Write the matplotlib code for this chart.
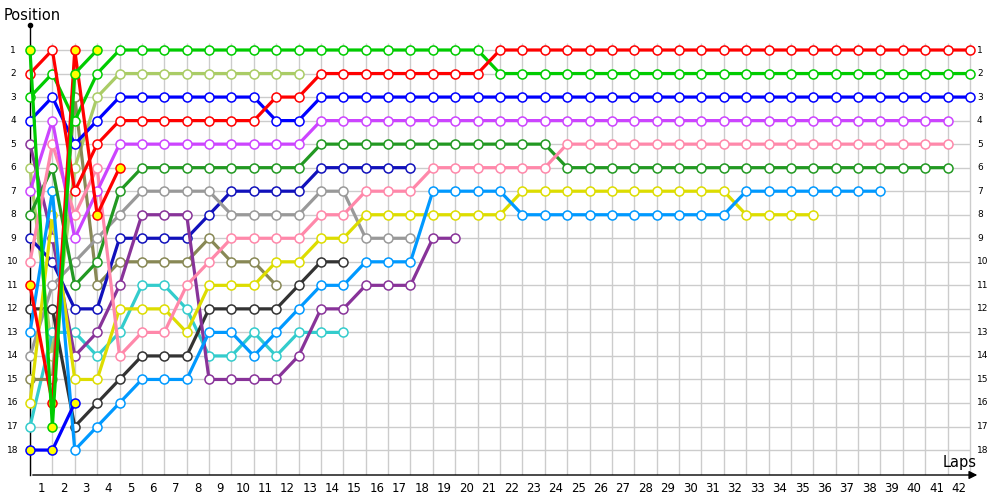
import matplotlib
matplotlib.use("Agg")
import matplotlib.pyplot as plt

# positions per lap, starting at lap 0 (grid)
red = [2, 1, 7, 5] + [4] * 7 + [3, 3] + [2] * 8 + [1] * 22
green = [3, 2, 4, 2] + [1] * 17 + [2] * 22
blue = [4, 3, 5, 4] + [3] * 7 + [4, 4] + [3] * 30
violet = [7, 4, 9, 7] + [5] * 9 + [4] * 29
pink = [10, 5, 8, 6, 14, 13, 13, 11, 10, 9, 9, 9, 9, 8, 8, 7, 7, 7] + [6] * 6 + [5] * 18
darkgreen = [8, 6, 11, 10, 7] + [6] * 8 + [5] * 11 + [6] * 18
skyblue = [13, 7, 18, 17, 16, 15, 15, 15, 13, 13, 14, 13, 12, 11, 11, 10, 10, 10] + [7] * 4 + [8] * 10 + [7] * 7
yellow = [16, 8, 15, 15, 12, 12, 12, 13, 11, 11, 11, 10, 10, 9, 9] + [8] * 7 + [7] * 10 + [8] * 4
purple = [5, 9, 14, 13, 11, 8, 8, 8, 15, 15, 15, 15, 14, 12, 12, 11, 11, 11, 9, 9]
gray = [14, 11, 10, 9, 8, 7, 7, 7, 7, 8, 8, 8, 8, 7, 7, 9, 9, 9]
navy = [9, 10, 12, 12, 9, 9, 9, 9, 8, 7, 7, 7, 7, 6, 6, 6, 6, 6]
black = [12, 12, 17, 16, 15, 14, 14, 14, 12, 12, 12, 12, 11, 10, 10]
olive = [15, 15, 3, 11, 10, 10, 10, 10, 9, 10, 10, 11]
turquoise = [17, 13, 13, 14, 13, 11, 11, 12, 14, 14, 13, 14, 13, 13, 13]
lightolive = [6, 14, 6, 3] + [2] * 9

# short series drawn with yellow markers
green_y = [1, 17, 2, 1]
red_y = [11, 16, 1, 8, 6]
blue_y = [18, 18, 16]

n_laps = 42
n_pos = 18

# drawing order: back to front
series = [
    (lightolive, "#aacc66", "white"),
    (turquoise, "#33cccc", "white"),
    (olive, "#888855", "white"),
    (black, "#333333", "white"),
    (navy, "#1111bb", "white"),
    (gray, "#999999", "white"),
    (purple, "#883399", "white"),
    (yellow, "#dddd00", "white"),
    (skyblue, "#0099ff", "white"),
    (darkgreen, "#229922", "white"),
    (pink, "#ff88aa", "white"),
    (violet, "#cc44ff", "white"),
    (blue, "#0000ff", "white"),
    (green, "#00cc00", "white"),
    (red, "#ff0000", "white"),
    (blue_y, "#0000ff", "#ffff00"),
    (red_y, "#ff0000", "#ffff00"),
    (green_y, "#00cc00", "#ffff00"),
]

fig = plt.figure(figsize=(10, 5), dpi=100)
ax = fig.add_axes([0.03, 0.05, 0.955, 0.90])
ax.set_xlim(0, 42.67)
ax.set_ylim(19.06, -0.0625)
ax.axis("off")

# grid
ax.vlines(range(n_laps + 1), 0.7, 19.06, color="#cccccc", lw=1, zorder=0)
ax.hlines(range(1, n_pos + 1), 0, n_laps, color="#cccccc", lw=1, zorder=0)

for i, (vals, col, fc) in enumerate(series):
    ax.plot(range(len(vals)), vals, color=col, lw=2.3, marker="o", ms=6.5,
            mfc=fc, mec=col, mew=1.1, solid_joinstyle="miter",
            clip_on=False, zorder=2 + i)

# axes lines
ax.plot([0, 0], [19.06, -0.06], color="black", lw=1, clip_on=False, zorder=1)
ax.plot([0], [-0.06], "o", color="black", ms=3, clip_on=False)
ax.annotate("", xy=(42.45, 19.06), xytext=(0, 19.06),
            arrowprops=dict(arrowstyle="-|>", color="black", lw=1,
                            mutation_scale=12), annotation_clip=False)

# tick labels
for p in range(1, n_pos + 1):
    ax.text(-0.76, p, str(p), ha="center", va="center", fontsize=6.5)
    ax.text(42.31, p, str(p), ha="left", va="center", fontsize=6.5)
for lap in range(1, n_laps + 1):
    ax.text(lap - 0.5, 19.62, str(lap), ha="center", va="center", fontsize=8.5)

fig.text(0.004, 0.97, "Position", ha="left", va="center", fontsize=10.5)
fig.text(0.943, 0.074, "Laps", ha="left", va="center", fontsize=10.5)

fig.savefig("out.png", dpi=100)
